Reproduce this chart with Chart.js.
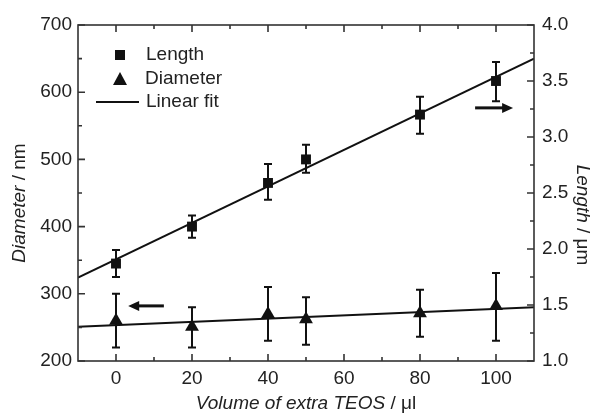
<!DOCTYPE html>
<html>
<head>
<meta charset="utf-8">
<script src="https://cdn.jsdelivr.net/npm/chart.js@4"></script>
<style>
  html, body { margin: 0; padding: 0; background: #fff; }
  #wrap { width: 594px; height: 418px; }
</style>
</head>
<body>
<div id="wrap"><canvas id="myChart" width="594" height="418"></canvas></div>
<script>
// data
const volumes = [0, 20, 40, 50, 80, 100];
const lengthValues = [1.87, 2.20, 2.59, 2.80, 3.20, 3.50];
const lengthLow = [1.75, 2.10, 2.44, 2.68, 3.03, 3.32];
const lengthHigh = [1.99, 2.30, 2.76, 2.93, 3.36, 3.67];
const diameterValues = [260, 251, 270, 262, 271, 282];
const diameterLow = [220, 220, 230, 224, 236, 230];
const diameterHigh = [300, 280, 310, 295, 306, 331];

// linear fit end points (x = -10 and x = 110)
const fitX = [-10, 110];
const lengthFit = [1.745, 3.70];
const diameterFit = [251, 280];

// tick values
const xTicks = [0, 20, 40, 60, 80, 100];
const xMinor = [10, 30, 50, 70, 90];
const diameterTicks = [200, 300, 400, 500, 600, 700];
const diameterMinor = [250, 350, 450, 550, 650];
const lengthTicks = [1.0, 1.5, 2.0, 2.5, 3.0, 3.5, 4.0];
const lengthMinor = [1.25, 1.75, 2.25, 2.75, 3.25, 3.75];

// arrows pointing to each series' axis
const arrowLeft = { from: 12.6, to: 3.2, y: 282 };
const arrowRight = { from: 94.5, to: 104.5, y: 3.26 };

const FONT = "'Liberation Sans', Arial, sans-serif";
const INK = '#111';
const AXIS = '#333';

const toPoints = (xs, ys) => xs.map((x, i) => ({ x: x, y: ys[i] }));

// error bars under the markers
const errorBars = {
  id: 'errorBars',
  beforeDatasetsDraw(chart) {
    const ctx = chart.ctx;
    const x = chart.scales.x;
    const sets = [
      { scale: chart.scales.y1, lo: lengthLow, hi: lengthHigh },
      { scale: chart.scales.y, lo: diameterLow, hi: diameterHigh }
    ];
    ctx.save();
    ctx.strokeStyle = INK;
    ctx.lineWidth = 2;
    sets.forEach(s => {
      volumes.forEach((v, i) => {
        const px = x.getPixelForValue(v);
        const top = s.scale.getPixelForValue(s.hi[i]);
        const bot = s.scale.getPixelForValue(s.lo[i]);
        ctx.beginPath();
        ctx.moveTo(px, top); ctx.lineTo(px, bot);
        ctx.moveTo(px - 4, top); ctx.lineTo(px + 4, top);
        ctx.moveTo(px - 4, bot); ctx.lineTo(px + 4, bot);
        ctx.stroke();
      });
    });
    ctx.restore();
  }
};

// box frame with inward ticks on all four sides
const frame = {
  id: 'frame',
  afterDatasetsDraw(chart) {
    const ctx = chart.ctx;
    const a = chart.chartArea;
    const { x, y, y1 } = chart.scales;
    ctx.save();
    ctx.strokeStyle = AXIS;
    ctx.lineWidth = 1.6;
    ctx.strokeRect(a.left, a.top, a.right - a.left, a.bottom - a.top);
    ctx.beginPath();
    const vt = (vals, len) => vals.forEach(v => {
      const p = x.getPixelForValue(v);
      ctx.moveTo(p, a.bottom); ctx.lineTo(p, a.bottom - len);
      ctx.moveTo(p, a.top); ctx.lineTo(p, a.top + len);
    });
    vt(xTicks, 7); vt(xMinor, 4);
    const lt = (vals, len) => vals.forEach(v => {
      const p = y.getPixelForValue(v);
      ctx.moveTo(a.left, p); ctx.lineTo(a.left + len, p);
    });
    lt(diameterTicks, 7); lt(diameterMinor, 4);
    const rt = (vals, len) => vals.forEach(v => {
      const p = y1.getPixelForValue(v);
      ctx.moveTo(a.right, p); ctx.lineTo(a.right - len, p);
    });
    rt(lengthTicks, 7); rt(lengthMinor, 4);
    ctx.stroke();
    ctx.restore();
  }
};

function mixedText(ctx, parts, cx, cy) {
  let total = 0;
  parts.forEach(p => { ctx.font = p.font; p.w = ctx.measureText(p.text).width; total += p.w; });
  let px = cx - total / 2;
  parts.forEach(p => {
    ctx.font = p.font;
    ctx.fillText(p.text, px, cy);
    px += p.w;
  });
}

function arrow(ctx, x0, x1, y) {
  const dir = Math.sign(x1 - x0);
  ctx.beginPath();
  ctx.moveTo(x0, y); ctx.lineTo(x1 - dir * 9, y);
  ctx.lineWidth = 3;
  ctx.stroke();
  ctx.beginPath();
  ctx.moveTo(x1, y);
  ctx.lineTo(x1 - dir * 11, y - 5);
  ctx.lineTo(x1 - dir * 11, y + 5);
  ctx.closePath();
  ctx.fill();
}

// titles, legend, arrows
const extras = {
  id: 'extras',
  afterDraw(chart) {
    const ctx = chart.ctx;
    const a = chart.chartArea;
    const { x, y, y1 } = chart.scales;
    const it = 'italic 19px ' + FONT;
    const nf = '19px ' + FONT;
    ctx.save();
    ctx.fillStyle = '#222';
    ctx.textBaseline = 'middle';
    ctx.textAlign = 'left';

    mixedText(ctx, [{ text: 'Volume of extra TEOS', font: it }, { text: ' / μl', font: nf }],
      (a.left + a.right) / 2, 404);

    ctx.save();
    ctx.translate(20, 203);
    ctx.rotate(-Math.PI / 2);
    mixedText(ctx, [{ text: 'Diameter', font: it }, { text: ' / nm', font: nf }], 0, 0);
    ctx.restore();

    ctx.save();
    ctx.translate(582, 215);
    ctx.rotate(Math.PI / 2);
    mixedText(ctx, [{ text: 'Length', font: it }, { text: ' / μm', font: nf }], 0, 0);
    ctx.restore();

    // legend
    ctx.fillStyle = INK;
    ctx.strokeStyle = INK;
    ctx.fillRect(115, 50, 10, 10);
    ctx.beginPath();
    ctx.moveTo(120, 72); ctx.lineTo(127, 85); ctx.lineTo(113, 85);
    ctx.closePath(); ctx.fill();
    ctx.beginPath();
    ctx.lineWidth = 2;
    ctx.moveTo(96, 102); ctx.lineTo(139, 102);
    ctx.stroke();
    ctx.fillStyle = '#222';
    ctx.font = nf;
    ctx.fillText('Length', 146, 55);
    ctx.fillText('Diameter', 145, 79);
    ctx.fillText('Linear fit', 146, 102);

    // arrows
    ctx.fillStyle = INK;
    ctx.strokeStyle = INK;
    arrow(ctx, x.getPixelForValue(arrowLeft.from), x.getPixelForValue(arrowLeft.to), y.getPixelForValue(arrowLeft.y));
    arrow(ctx, x.getPixelForValue(arrowRight.from), x.getPixelForValue(arrowRight.to), y1.getPixelForValue(arrowRight.y));
    ctx.restore();
  }
};

const tickFont = { family: FONT, size: 19 };

const ctx = document.getElementById('myChart').getContext('2d');
const myChart = new Chart(ctx, {
  type: 'scatter',
  data: {
    datasets: [
      {
        label: 'Length',
        data: toPoints(volumes, lengthValues),
        yAxisID: 'y1',
        pointStyle: 'rect',
        pointRadius: 7,
        backgroundColor: INK,
        borderColor: INK,
        borderWidth: 0
      },
      {
        label: 'Diameter',
        data: toPoints(volumes, diameterValues),
        yAxisID: 'y',
        pointStyle: 'triangle',
        pointRadius: 8,
        backgroundColor: INK,
        borderColor: INK,
        borderWidth: 0
      },
      {
        label: 'Length fit',
        type: 'line',
        data: toPoints(fitX, lengthFit),
        yAxisID: 'y1',
        borderColor: INK,
        borderWidth: 2,
        pointRadius: 0,
        order: 5
      },
      {
        label: 'Diameter fit',
        type: 'line',
        data: toPoints(fitX, diameterFit),
        yAxisID: 'y',
        borderColor: INK,
        borderWidth: 2,
        pointRadius: 0,
        order: 5
      }
    ]
  },
  options: {
    responsive: false,
    animation: false,
    layout: { padding: { top: 25, left: 0, right: 0, bottom: 0 } },
    plugins: { legend: { display: false }, tooltip: { enabled: false } },
    scales: {
      x: {
        type: 'linear',
        min: -10,
        max: 110,
        afterBuildTicks: s => { s.ticks = xTicks.map(v => ({ value: v })); },
        afterFit: s => { s.height = 57; },
        grid: { display: false, drawTicks: false },
        border: { display: false },
        ticks: { font: tickFont, color: '#222', padding: 6 }
      },
      y: {
        position: 'left',
        min: 200,
        max: 700,
        afterBuildTicks: s => { s.ticks = diameterTicks.map(v => ({ value: v })); },
        afterFit: s => { s.width = 78; },
        grid: { display: false, drawTicks: false },
        border: { display: false },
        ticks: { font: tickFont, color: '#222', padding: 6 }
      },
      y1: {
        position: 'right',
        min: 1.0,
        max: 4.0,
        afterBuildTicks: s => { s.ticks = lengthTicks.map(v => ({ value: v })); },
        afterFit: s => { s.width = 60; },
        grid: { display: false, drawTicks: false },
        border: { display: false },
        ticks: { font: tickFont, color: '#222', padding: 8, callback: v => v.toFixed(1) }
      }
    }
  },
  plugins: [errorBars, frame, extras]
});
</script>
</body>
</html>
